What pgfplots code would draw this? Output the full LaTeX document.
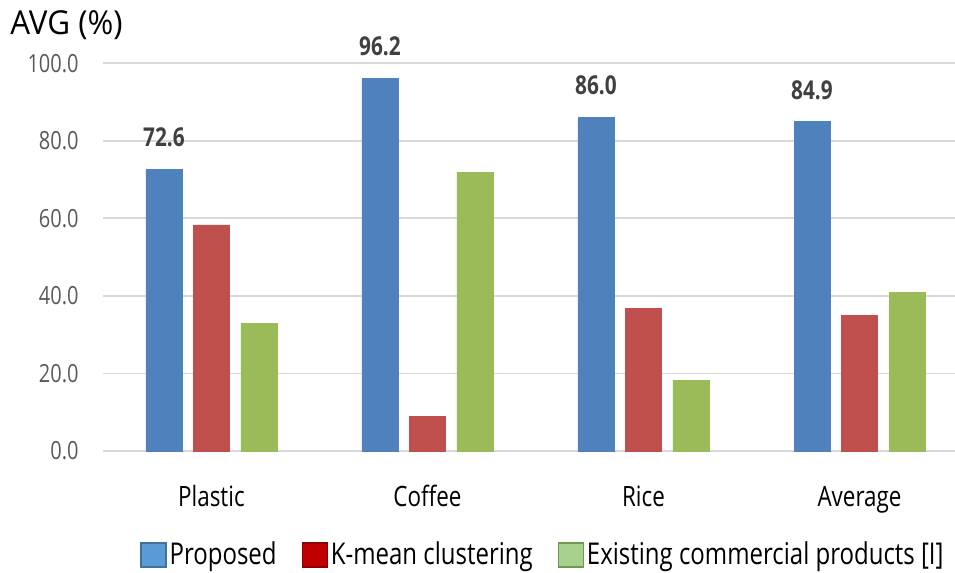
\documentclass[border=0pt]{standalone}
\usepackage{pgfplots}
\pgfplotsset{compat=1.18}
\usepackage{fontspec}
\setmainfont[FakeStretch=0.8]{Open Sans}
\newfontfamily\titlefont[FakeStretch=0.95]{Open Sans}

\definecolor{barblue}{HTML}{4F81BD}
\definecolor{barred}{HTML}{C0504D}
\definecolor{bargreen}{HTML}{9BBB59}
\definecolor{legblue}{HTML}{5B9BD5}
\definecolor{legblueb}{HTML}{41719C}
\definecolor{legred}{HTML}{C00000}
\definecolor{legredb}{HTML}{8C0000}
\definecolor{leggreen}{HTML}{A9D18E}
\definecolor{leggreenb}{HTML}{6E9A50}
\definecolor{gridgray}{HTML}{D9D9D9}
\definecolor{tickgray}{HTML}{595959}
\definecolor{lblgray}{HTML}{404040}

\begin{document}
\begin{tikzpicture}
\useasboundingbox (0pt,0pt) rectangle (477.5pt,286.5pt);
\node[anchor=base west, inner sep=0pt, font=\titlefont\fontsize{16.5}{18}\selectfont] at (5pt,269pt) {AVG (\%)};
\begin{axis}[
    at={(51.5pt,61pt)}, anchor=south west,
    scale only axis,
    width=426pt, height=193.85pt,
    xmin=-0.502, xmax=3.442,
    ymin=0, ymax=100,
    ytick={0,20,...,100},
    xtick={0,1,2,3},
    xticklabels={Plastic,Coffee,Rice,Average},
    axis line style={draw=none},
    major tick length=0pt,
    tick style={draw=none},
    ymajorgrids,
    grid style={draw=gridgray, line width=0.9pt},
    ybar, bar width=18pt,
    clip=false,
    /pgf/number format/fixed,
    /pgf/number format/fixed zerofill,
    /pgf/number format/precision=1,
    /pgf/number format/assume math mode=true,
    yticklabel style={font=\fontsize{12.5}{14}\selectfont, text=tickgray,
        anchor=east, inner sep=0pt, xshift=-12pt},
    xticklabel style={font=\fontsize{14}{16}\selectfont, text=black,
        anchor=base, inner sep=0pt, yshift=-28pt},
    legend style={at={(0.0434,-0.268)}, anchor=west, draw=none, fill=none,
        font=\fontsize{15}{17}\selectfont, inner sep=0pt,
        nodes={inner xsep=1.5pt, inner ysep=0pt},
        /tikz/every even column/.append style={column sep=11pt}},
    legend columns=3,
]
\addlegendimage{legend image code/.code={\draw[fill=legblue, draw=legblueb, line width=0.6pt] (0pt,-6pt) rectangle (12.5pt,6pt);}}
\addlegendentry{Proposed}
\addlegendimage{legend image code/.code={\draw[fill=legred, draw=legredb, line width=0.6pt] (0pt,-6pt) rectangle (12.5pt,6pt);}}
\addlegendentry{K-mean clustering}
\addlegendimage{legend image code/.code={\draw[fill=leggreen, draw=leggreenb, line width=0.6pt] (0pt,-6pt) rectangle (12.5pt,6pt);}}
\addlegendentry{Existing commercial products [I]}

\addplot[forget plot, fill=barblue, draw=barblue, bar shift=-23.75pt,
    nodes near coords,
    nodes near coords style={anchor=south, inner sep=0pt, yshift=11pt,
        font=\fontsize{13}{15}\selectfont\bfseries, text=lblgray}]
    coordinates {(0,72.6) (1,96.2) (2,86.0) (3,84.9)};
\addplot[forget plot, fill=barred, draw=barred, bar shift=0pt]
    coordinates {(0,58.3) (1,9.0) (2,36.8) (3,34.9)};
\addplot[forget plot, fill=bargreen, draw=bargreen, bar shift=23.75pt]
    coordinates {(0,32.9) (1,71.9) (2,18.3) (3,41.0)};
\end{axis}
\end{tikzpicture}
\end{document}
